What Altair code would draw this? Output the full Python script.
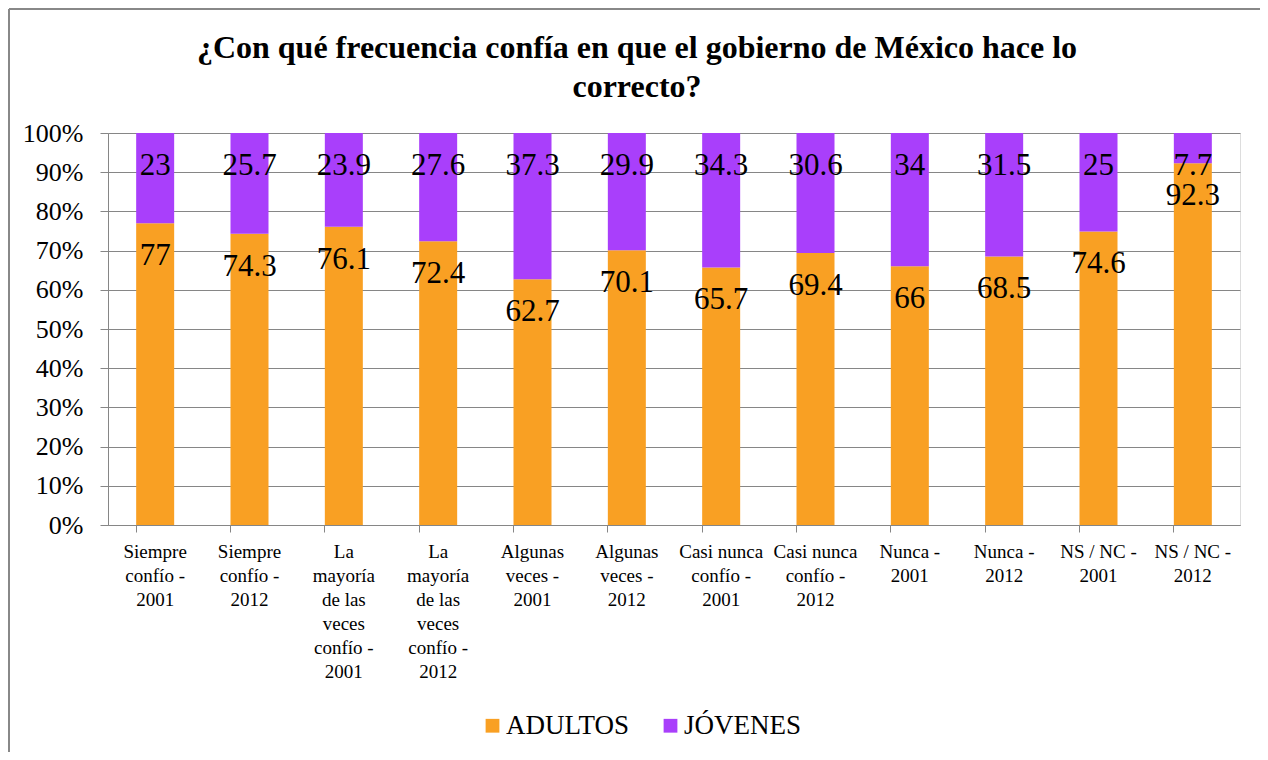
import altair as alt
import pandas as pd

categories = [
    "Siempre|confío -|2001",
    "Siempre|confío -|2012",
    "La|mayoría|de las|veces|confío -|2001",
    "La|mayoría|de las|veces|confío -|2012",
    "Algunas|veces -|2001",
    "Algunas|veces -|2012",
    "Casi nunca|confío -|2001",
    "Casi nunca|confío -|2012",
    "Nunca -|2001",
    "Nunca -|2012",
    "NS / NC -|2001",
    "NS / NC -|2012",
]
adultos = [77, 74.3, 76.1, 72.4, 62.7, 70.1, 65.7, 69.4, 66, 68.5, 74.6, 92.3]
jovenes = [23, 25.7, 23.9, 27.6, 37.3, 29.9, 34.3, 30.6, 34, 31.5, 25, 7.7]
series = ["ADULTOS", "JÓVENES"]
colors = ["#F9A023", "#A93FFB"]
title_lines = ["¿Con qué frecuencia confía en que el gobierno de México hace lo", "correcto?"]

rows = []
for i, c in enumerate(categories):
    rows.append({"cat": c, "serie": series[0], "ord": 0, "value": adultos[i]})
    rows.append({"cat": c, "serie": series[1], "ord": 1, "value": jovenes[i]})
df = pd.DataFrame(rows)

FONT = "Liberation Serif"
TFONT = "'Liberation Serif', 'Times New Roman', Times, serif"

base = alt.Chart(df).transform_stack(
    stack="value",
    groupby=["cat"],
    as_=["y0", "y1"],
    offset="normalize",
    sort=[alt.SortField("ord", order="ascending")],
)

xaxis = alt.Axis(
    labelExpr="split(datum.label, '|')",
    labelAngle=0,
    labelFont=FONT,
    labelFontSize=19,
    labelColor="#000000",
    labelLineHeight=24,
    labelPadding=10,
    labelBaseline="top",
    labelLimit=200,
    labelOverlap=False,
    tickSize=7,
    tickColor="#868686",
    domainColor="#868686",
    bandPosition=0,
    labelBound=False,
    grid=False,
)
xscale = alt.Scale(paddingInner=0.6, paddingOuter=0.3)
yaxis = alt.Axis(
    values=[i / 10 for i in range(11)],
    format=".0%",
    labelFont=FONT,
    labelFontSize=26,
    labelColor="#000000",
    labelPadding=17,
    labelOverlap=False,
    tickSize=8,
    tickColor="#868686",
    domainColor="#868686",
    gridColor="#868686",
    grid=True,
)
yscale = alt.Scale(domain=[0, 1], nice=False)

bars = base.mark_bar(size=38).encode(
    x=alt.X("cat:N", sort=categories, title=None, scale=xscale, axis=xaxis),
    y=alt.Y("y0:Q", title=None, scale=yscale, axis=yaxis),
    y2="y1:Q",
    color=alt.Color(
        "serie:N",
        scale=alt.Scale(domain=series, range=colors),
        title=None,
        legend=alt.Legend(
            orient="none",
            direction="horizontal",
            legendX=371,
            legendY=579,
            symbolType="square",
            symbolSize=190,
            symbolStrokeWidth=0,
            labelFont=FONT,
            labelFontSize=27,
            labelColor="#000000",
            labelOffset=0,
            columnPadding=27,
        ),
    ),
)

labels = base.mark_text(
    font=FONT, fontSize=31, color="#000000", baseline="middle", dy=33
).encode(
    x=alt.X("cat:N", sort=categories, title=None, scale=xscale, axis=xaxis),
    y=alt.Y("y1:Q", title=None, scale=yscale, axis=yaxis),
    text=alt.Text("value:Q", format=".1~f"),
)

one = pd.DataFrame({"a": [0]})
title_mark = alt.Chart(one).mark_text(
    font=TFONT, fontSize=32, fontWeight="bold", color="#000000",
    align="center", baseline="alphabetic", lineHeight=39,
).encode(x=alt.value(529), y=alt.value(-75), text=alt.value(title_lines))

frame_left = alt.Chart(one).mark_rule(color="#888888", strokeWidth=2).encode(
    x=alt.value(-99), y=alt.value(-124), y2=alt.value(625)
)
frame_top = alt.Chart(one).mark_rule(color="#888888", strokeWidth=2).encode(
    x=alt.value(-99), x2=alt.value(1160), y=alt.value(-124)
)

chart = alt.layer(bars, labels, title_mark, frame_left, frame_top).properties(
    width=1132,
    height=392,
    autosize=alt.AutoSizeParams(type="none"),
    padding={"left": 100, "top": 125, "right": 20, "bottom": 227},
).configure_view(stroke=None).configure(background="white")

chart.save("out.html", embed_options={"renderer": "svg", "actions": False})
